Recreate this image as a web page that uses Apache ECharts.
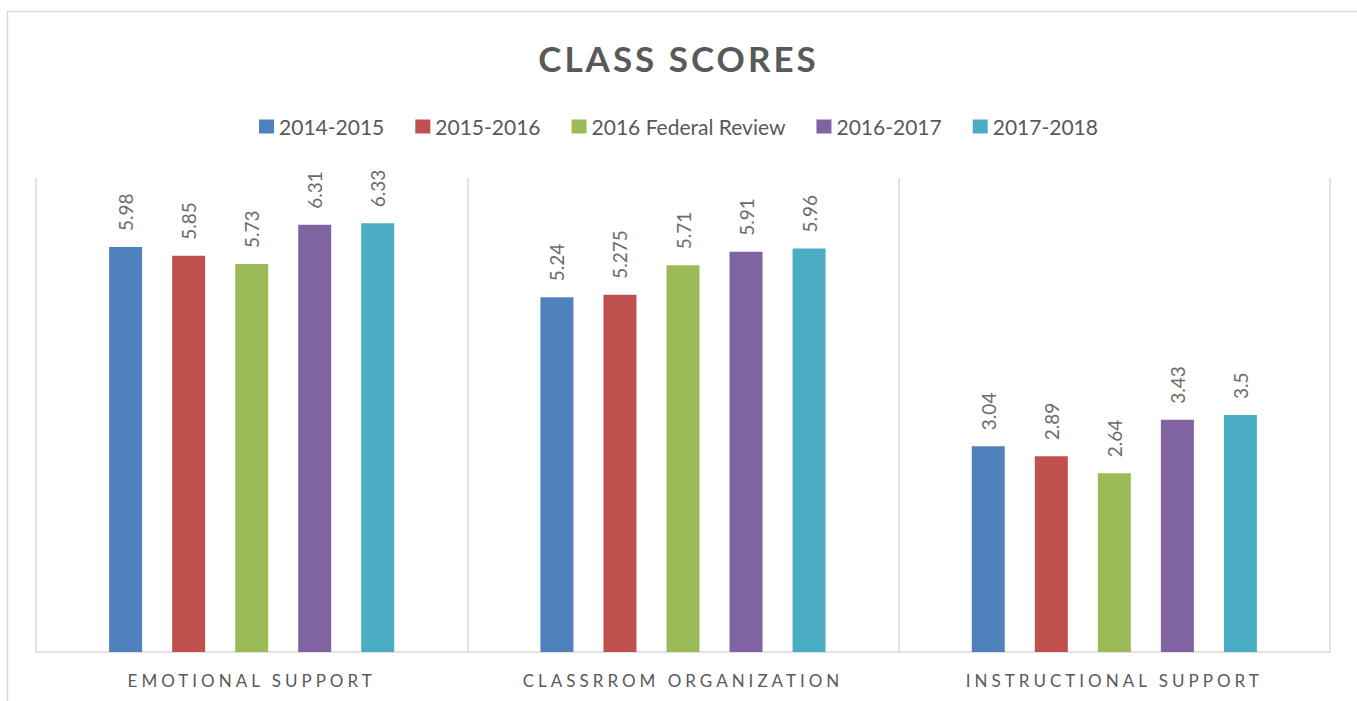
<!DOCTYPE html>
<html>
<head>
<meta charset="utf-8">
<script src="https://cdn.jsdelivr.net/npm/echarts@6/dist/echarts.min.js"></script>
<style>
  html, body {margin: 0; padding: 0; background: #fff;}
  #chart {width: 1357px; height: 701px;}
</style>
</head>
<body>
<div id="chart"></div>
<script>
// data
const categories = ['EMOTIONAL SUPPORT', 'CLASSRROM ORGANIZATION', 'INSTRUCTIONAL SUPPORT'];
const series_names = ['2014-2015', '2015-2016', '2016 Federal Review', '2016-2017', '2017-2018'];
const v_2014_2015 = [5.98, 5.24, 3.04];
const v_2015_2016 = [5.85, 5.275, 2.89];
const v_2016_federal = [5.73, 5.71, 2.64];
const v_2016_2017 = [6.31, 5.91, 3.43];
const v_2017_2018 = [6.33, 5.96, 3.5];
const color_ls = ['#4F81BD', '#C0504D', '#9BBB59', '#8064A2', '#4BACC6'];

const value_ls = [v_2014_2015, v_2015_2016, v_2016_federal, v_2016_2017, v_2017_2018];

var chartDom = document.getElementById('chart');
var myChart = echarts.init(chartDom, null, {renderer: 'svg'});

var series = [];
for (let i = 0; i < value_ls.length; i++) {
  series.push({
    name: series_names[i], type: 'bar', data: value_ls[i],
    barWidth: 33, barGap: '91%',
    itemStyle: {color: color_ls[i]},
    label: {show: true, position: 'top', rotate: 90, align: 'left', verticalAlign: 'middle',
      distance: 16, color: '#6b6b6b', fontFamily: 'Lato', fontSize: 19}
  });
}

var option = {
  animation: false,
  title: {text: 'CLASS SCORES', left: 'center', top: 40, padding: 0,
    textStyle: {fontFamily: 'Lato', fontWeight: 'bold', fontSize: 35, color: '#595959'}},
  legend: {data: series_names, top: 111, left: 'center', icon: 'rect', itemWidth: 15, itemHeight: 14,
    itemGap: 31, padding: [5, 0, 5, 20], textStyle: {fontFamily: 'Lato', fontSize: 21, color: '#595959'}},
  graphic: [{type: 'rect', silent: true, z: -1,
    shape: {x: 7.5, y: 11.5, width: 1400, height: 800},
    style: {fill: 'none', stroke: '#d9d9d9', lineWidth: 1.5}}],
  grid: {left: 36, right: 27, top: 178, bottom: 49},
  xAxis: {type: 'category', data: categories,
    axisLine: {lineStyle: {color: '#d9d9d9', width: 1.5}},
    axisTick: {show: false},
    splitLine: {show: true, lineStyle: {color: '#d9d9d9', width: 1.5}},
    axisLabel: {margin: 20, fontFamily: 'Lato', fontSize: 17, color: '#595959'}},
  yAxis: {type: 'value', min: 0, max: 7, show: false, splitLine: {show: false}},
  series: series
};
option && myChart.setOption(option);

// letter spacing for title and axis labels (svg text)
const spaced = {'CLASS SCORES': '3px'};
categories.forEach(c => spaced[c] = '4px');
function spaceText() {
  document.querySelectorAll('#chart text').forEach(t => {
    const s = spaced[t.textContent];
    if (s) t.style.letterSpacing = s;
  });
}
spaceText();
myChart.on('finished', spaceText);
</script>
</body>
</html>
